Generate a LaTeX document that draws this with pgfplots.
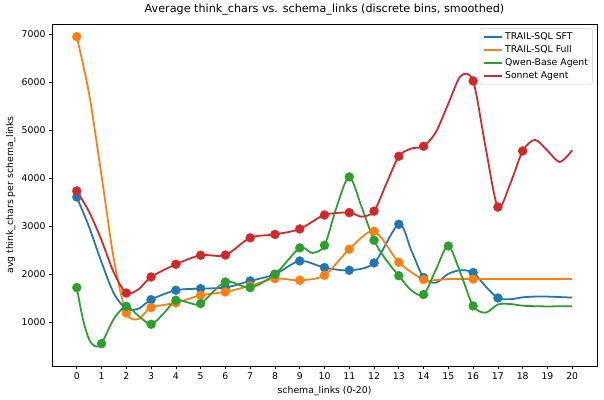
\documentclass[border=0pt]{standalone}
\usepackage{fontspec}
\setmainfont{DejaVu Sans}
\usepackage{pgfplots}
\pgfplotsset{compat=1.18}
\definecolor{cA}{HTML}{1F77B4}
\definecolor{cB}{HTML}{FF7F0E}
\definecolor{cC}{HTML}{2CA02C}
\definecolor{cD}{HTML}{D62728}
\begin{document}
\begin{tikzpicture}
\begin{axis}[
  scale only axis, width=584.7pt, height=366.9pt,
  xmin=-1, xmax=21, ymin=90, ymax=7215,
  xtick={0,1,...,20}, ytick={1000,2000,...,7000},
  tick pos=left, tick align=outside, major tick length=3.5pt,
  every tick/.style={black, line width=0.8pt},
  axis line style={line width=0.8pt},
  /pgf/number format/assume math mode=true,
  /pgf/number format/set thousands separator={},
  ticklabel style={font=\fontsize{10}{12}\selectfont},
  xlabel={schema\_links (0-20)}, ylabel={avg think\_chars per schema\_links},
  label style={font=\fontsize{10}{12}\selectfont},
  title={Average think\_chars vs. schema\_links (discrete bins, smoothed)},
  title style={font=\fontsize{12}{14}\selectfont},
  legend style={at={(rel axis cs:1,1)}, xshift=-4.5pt, yshift=-4.5pt, anchor=north east,
    font=\fontsize{10}{12}\selectfont, draw={rgb,255:red,204;green,204;blue,204},
    fill=white, fill opacity=0.8, text opacity=1, rounded corners=2pt,
    row sep=0.8pt, inner sep=3pt},
  legend cell align=left,
  legend image code/.code={\draw[#1] (0pt,0pt) -- (20pt,0pt);},
]
% TRAIL-SQL SFT
\addplot[cA, line width=1.9pt, smooth, no markers] coordinates {
(0,3610) (0.5,2980) (1,2250) (1.5,1600) (2,1280) (2.5,1285) (3,1472) (4,1667) (5,1701) (6,1723) (7,1861) (8,2000) (9,2277) (10,2139) (11,2083) (12,2236) (13,3042) (13.5,2500) (14,1931) (14.5,1825) (15,2010) (15.5,2085) (16,2035) (16.5,1750) (17,1506) (17.5,1480) (18,1520) (18.5,1535) (19,1535) (19.5,1525) (20,1514)};
\addlegendentry{TRAIL-SQL SFT}
\addplot[only marks, mark=*, mark size=4.8pt, mark options={fill=cA, draw=cA}, forget plot] coordinates {
(0,3610) (2,1280) (3,1472) (4,1667) (5,1701) (6,1723) (7,1861) (8,2000) (9,2277) (10,2139) (11,2083) (12,2236) (13,3042) (14,1931) (16,2035) (17,1506)};
% TRAIL-SQL Full
\addplot[cB, line width=1.9pt, smooth, no markers] coordinates {
(0,6950) (0.5,5750) (1,4050) (1.5,2300) (2,1194) (2.5,1070) (3,1306) (4,1403) (5,1562) (6,1632) (7,1760) (8,1910) (9,1875) (10,1979) (11,2521) (12,2896) (13,2250) (14,1890) (14.5,1880) (15,1900) (16,1900) (17,1900) (18,1900) (19,1900) (20,1900)};
\addlegendentry{TRAIL-SQL Full}
\addplot[only marks, mark=*, mark size=4.8pt, mark options={fill=cB, draw=cB}, forget plot] coordinates {
(0,6950) (2,1194) (3,1306) (4,1403) (5,1562) (6,1632) (7,1760) (8,1910) (9,1875) (10,1979) (11,2521) (12,2896) (13,2250) (14,1890) (16,1900)};
% Qwen-Base Agent
\addplot[cC, line width=1.9pt, smooth, no markers] coordinates {
(0,1723) (0.25,1060) (0.5,640) (0.75,500) (1,556) (1.5,1075) (2,1333) (2.5,1130) (3,958) (3.5,1180) (4,1458) (4.5,1410) (5,1389) (6,1840) (7,1723) (8,2000) (9,2549) (9.5,2444) (10,2604) (10.5,3420) (11,4028) (11.5,3400) (12,2708) (12.5,2290) (13,1970) (13.5,1667) (14,1577) (14.5,2100) (15,2590) (15.5,2010) (16,1340) (16.5,1200) (17,1370) (17.5,1380) (18,1345) (18.5,1335) (19,1330) (19.5,1333) (20,1333)};
\addlegendentry{Qwen-Base Agent}
\addplot[only marks, mark=*, mark size=4.8pt, mark options={fill=cC, draw=cC}, forget plot] coordinates {
(0,1723) (1,556) (2,1333) (3,958) (4,1458) (5,1389) (6,1840) (7,1723) (8,2000) (9,2549) (10,2604) (11,4028) (12,2708) (13,1970) (14,1577) (15,2590) (16,1340)};
% Sonnet Agent
\addplot[cD, line width=1.9pt, smooth, no markers] coordinates {
(0,3735) (0.5,3300) (1,2708) (1.5,2030) (2,1610) (2.5,1690) (3,1944) (4,2208) (5,2396) (6,2400) (7,2760) (8,2830) (9,2944) (10,3235) (11,3285) (11.5,3200) (12,3315) (12.5,3889) (13,4458) (13.5,4618) (14,4667) (14.5,4965) (15,5556) (15.5,6130) (16,6027) (16.5,4653) (17,3400) (17.5,3889) (18,4569) (18.5,4800) (19,4575) (19.5,4340) (20,4583)};
\addlegendentry{Sonnet Agent}
\addplot[only marks, mark=*, mark size=4.8pt, mark options={fill=cD, draw=cD}, forget plot] coordinates {
(0,3735) (2,1610) (3,1944) (4,2208) (5,2396) (6,2400) (7,2760) (8,2830) (9,2944) (10,3235) (11,3285) (12,3315) (13,4458) (14,4667) (16,6027) (17,3400) (18,4569)};
\end{axis}
\pgfresetboundingbox
\path[use as bounding box] ([shift={(-55.8pt,-36.5pt)}]current axis.south west) rectangle ([shift={(7.5pt,25.7pt)}]current axis.north east);
\end{tikzpicture}
\end{document}
